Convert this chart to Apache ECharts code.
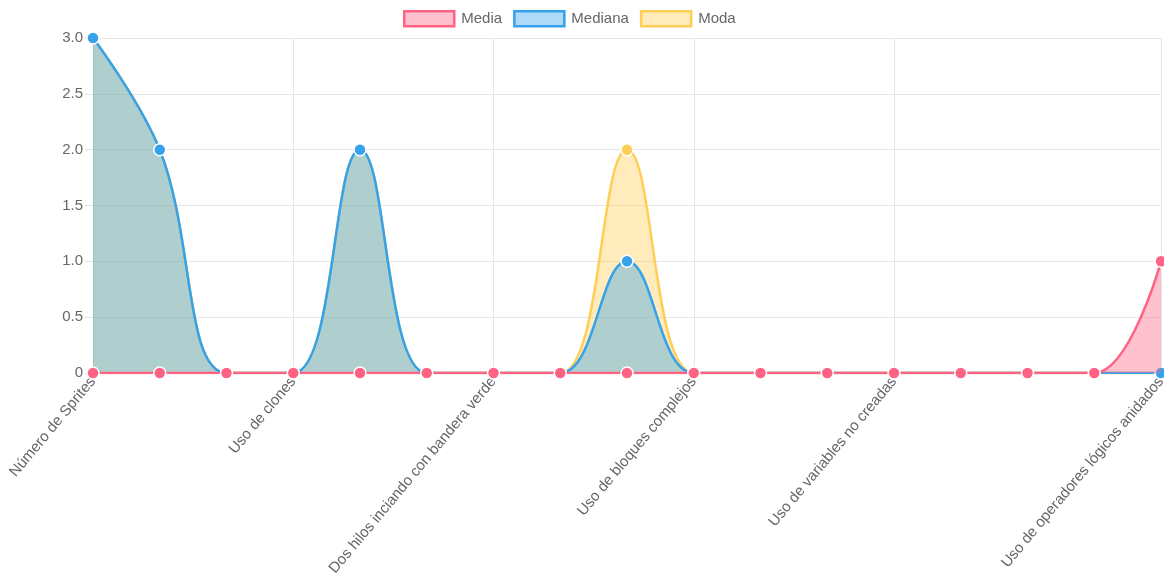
<!DOCTYPE html>
<html>
<head>
<meta charset="utf-8">
<script src="https://cdn.jsdelivr.net/npm/echarts@6/dist/echarts.min.js"></script>
<style>
  html, body { margin: 0; padding: 0; background: #fff; }
  #chart { width: 1164px; height: 579px; }
</style>
</head>
<body>
<div id="chart"></div>
<script>
// 17 criterios; solo se ven las etiquetas 0, 3, 6, 9, 12 y 16
var categories = [
    'Número de Sprites', 'Criterio 2', 'Criterio 3',
    'Uso de clones', 'Criterio 5', 'Criterio 6',
    'Dos hilos inciando con bandera verde', 'Criterio 8', 'Criterio 9',
    'Uso de bloques complejos', 'Criterio 11', 'Criterio 12',
    'Uso de variables no creadas', 'Criterio 14', 'Criterio 15', 'Criterio 16',
    'Uso de operadores lógicos anidados'
];
var shownLabels = [0, 3, 6, 9, 12, 16];

var media   = [0, 0, 0, 0, 0, 0, 0, 0, 0, 0, 0, 0, 0, 0, 0, 0, 1];
var mediana = [3, 2, 0, 0, 2, 0, 0, 0, 1, 0, 0, 0, 0, 0, 0, 0, 0];
var moda    = [3, 2, 0, 0, 2, 0, 0, 0, 2, 0, 0, 0, 0, 0, 0, 0, 0];

var yTicks = [0, 0.5, 1, 1.5, 2, 2.5, 3];

function makeSeries(name, data, line, fill, z) {
    return {
        name: name,
        type: 'line',
        data: data,
        smooth: 0.4,
        z: z,
        symbol: 'circle',
        symbolSize: 12,
        showSymbol: true,
        lineStyle: { color: line, width: 2.5 },
        itemStyle: { color: line, borderColor: '#fff', borderWidth: 1.5 },
        areaStyle: { color: fill, opacity: 1, origin: 'start' },
        emphasis: { disabled: true }
    };
}

var chart = echarts.init(document.getElementById('chart'));
var isShown = function (idx) { return shownLabels.indexOf(idx) >= 0; };

var option = {
    animation: false,
    textStyle: { fontFamily: 'Liberation Sans, Arial, sans-serif' },
    legend: {
        top: 10,
        left: 403,
        padding: 0,
        itemWidth: 50,
        itemHeight: 15,
        itemGap: 11,
        textStyle: { color: '#666', fontSize: 15, padding: [0, 0, 0, 2] },
        data: [
            { name: 'Media', icon: 'rect', itemStyle: { color: 'rgba(255,99,132,0.4)', borderColor: '#ff6384', borderWidth: 2.5 } },
            { name: 'Mediana', icon: 'rect', itemStyle: { color: 'rgba(54,162,235,0.4)', borderColor: '#36a2eb', borderWidth: 2.5 } },
            { name: 'Moda', icon: 'rect', itemStyle: { color: 'rgba(255,206,86,0.4)', borderColor: '#ffce56', borderWidth: 2.5 } }
        ]
    },
    grid: { left: 93, right: 3, top: 38, bottom: 206, containLabel: false, outerBoundsMode: 'none' },
    xAxis: {
        type: 'category',
        boundaryGap: false,
        data: categories,
        axisLine: { show: false },
        axisTick: { show: false },
        axisLabel: {
            rotate: 50,
            color: '#666',
            fontSize: 15,
            margin: 6,
            interval: function (idx) { return isShown(idx); }
        },
        splitLine: {
            show: true,
            interval: function (idx) { return isShown(idx); },
            lineStyle: { color: '#e6e6e6', width: 1 }
        }
    },
    yAxis: {
        type: 'value',
        min: yTicks[0],
        max: yTicks[yTicks.length - 1],
        interval: 0.5,
        axisLine: { show: true, lineStyle: { color: '#d9d9d9' } },
        axisTick: { show: true, length: 8, lineStyle: { color: '#e0e0e0' } },
        axisLabel: {
            color: '#666',
            fontSize: 15,
            margin: 10,
            formatter: function (v) { return v === 0 ? '0' : v.toFixed(1); }
        },
        splitLine: { lineStyle: { color: '#e6e6e6', width: 1 } }
    },
    series: [
        makeSeries('Media', media, '#ff6384', 'rgba(255,99,132,0.4)', 4),
        makeSeries('Mediana', mediana, '#36a2eb', 'rgba(54,162,235,0.4)', 3),
        makeSeries('Moda', moda, '#ffce56', 'rgba(255,206,86,0.4)', 2)
    ]
};

chart.setOption(option);
</script>
</body>
</html>
